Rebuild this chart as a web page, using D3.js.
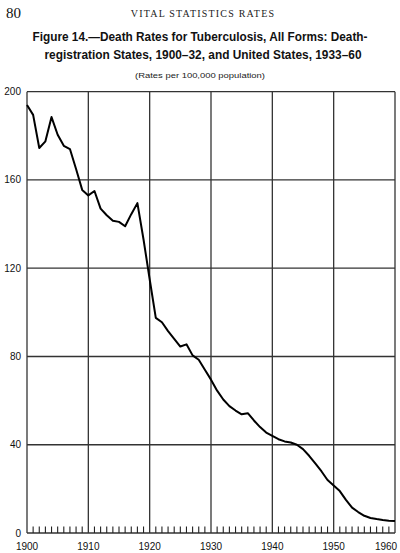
<!DOCTYPE html>
<html>
<head>
<meta charset="utf-8">
<script src="https://cdn.jsdelivr.net/npm/d3@7"></script>
<style>
  body { margin: 0; background: #fff; }
  svg { display: block; }
</style>
</head>
<body>
<div id="chart"></div>
<script>
// data
var years = d3.range(1900, 1961);
var rates = [
  194, 189.5, 174.5, 177.5, 188.5, 180.5, 175.5, 174, 165, 155.5,
  153, 155, 147, 144, 141.5, 141, 139, 144.5, 149.5, 133,
  115, 97.5, 95.5, 91.5, 88, 84.5, 85.5, 80.5, 78.5, 74,
  69.5, 64.5, 60.5, 57.5, 55.5, 53.8, 54.3, 51, 48, 45.5,
  44, 42.5, 41.5, 41, 40, 38, 35, 31.5, 28, 24,
  21.5, 19, 15, 11.5, 9.5, 7.8, 6.8, 6.3, 5.9, 5.6,
  5.4
];
var yTicks = [0, 40, 80, 120, 160, 200];
var xTicks = [1900, 1910, 1920, 1930, 1940, 1950, 1960];

var W = 400, H = 553;

var svg = d3.select('#chart').append('svg')
    .attr('width', W)
    .attr('height', H);

var x = d3.scaleLinear().domain([1900, 1960]).range([27, 395]);
var y = d3.scaleLinear().domain([0, 200]).range([533, 91.7]);

// page header
svg.append('text')
    .attr('x', 6).attr('y', 18)
    .attr('font-family', 'Liberation Serif, serif')
    .attr('font-size', 15)
    .attr('fill', '#111')
    .text('80');

svg.append('text')
    .attr('x', 203).attr('y', 17)
    .attr('text-anchor', 'middle')
    .attr('font-family', 'Liberation Serif, serif')
    .attr('font-size', 10)
    .attr('letter-spacing', 1.2)
    .attr('fill', '#222')
    .text('VITAL STATISTICS RATES');

// title
var title = [
  {t: 'Figure 14.\u2014Death Rates for Tuberculosis, All Forms: Death-', x: 200, y: 41, w: 335},
  {t: 'registration States, 1900\u201332, and United States, 1933\u201360', x: 203, y: 59, w: 317}
];
svg.selectAll('text.title').data(title).enter().append('text')
    .attr('class', 'title')
    .attr('x', function (d) { return d.x; })
    .attr('y', function (d) { return d.y; })
    .attr('text-anchor', 'middle')
    .attr('font-family', 'Liberation Sans, Arial, sans-serif')
    .attr('font-weight', 'bold')
    .attr('font-size', 12.5)
    .attr('textLength', function (d) { return d.w; })
    .attr('lengthAdjust', 'spacingAndGlyphs')
    .attr('fill', '#111')
    .text(function (d) { return d.t; });

svg.append('text')
    .attr('x', 200).attr('y', 78)
    .attr('text-anchor', 'middle')
    .attr('font-family', 'Liberation Sans, Arial, sans-serif')
    .attr('font-size', 8)
    .attr('textLength', 130)
    .attr('lengthAdjust', 'spacingAndGlyphs')
    .attr('fill', '#222')
    .text('(Rates per 100,000 population)');

// grid
var grid = svg.append('g')
    .attr('stroke', '#333')
    .attr('stroke-width', 1.3);

grid.selectAll('line.h').data(yTicks).enter().append('line')
    .attr('x1', x(1900)).attr('x2', x(1960))
    .attr('y1', function (d) { return y(d); })
    .attr('y2', function (d) { return y(d); });

grid.selectAll('line.v').data(xTicks).enter().append('line')
    .attr('x1', function (d) { return x(d); })
    .attr('x2', function (d) { return x(d); })
    .attr('y1', y(200)).attr('y2', y(0));

// small year ticks along the bottom
svg.append('g')
    .attr('stroke', '#222')
    .attr('stroke-width', 1.1)
    .selectAll('line').data(years.filter(function (d) { return d % 10 !== 0; }))
    .enter().append('line')
    .attr('x1', function (d) { return x(d); })
    .attr('x2', function (d) { return x(d); })
    .attr('y1', y(0)).attr('y2', y(0) - 6.5);

// axis labels
svg.selectAll('text.ylab').data(yTicks).enter().append('text')
    .attr('x', 21)
    .attr('y', function (d) { return y(d) + 3.5; })
    .attr('text-anchor', 'end')
    .attr('font-family', 'Liberation Sans, Arial, sans-serif')
    .attr('font-size', 10)
    .attr('fill', '#111')
    .text(function (d) { return d; });

svg.selectAll('text.xlab').data(xTicks).enter().append('text')
    .attr('x', function (d) { return d === 1960 ? x(d) - 9 : x(d); })
    .attr('y', 550)
    .attr('text-anchor', 'middle')
    .attr('font-family', 'Liberation Sans, Arial, sans-serif')
    .attr('font-size', 10)
    .attr('fill', '#111')
    .text(function (d) { return d; });

// the line
var line = d3.line()
    .x(function (d, i) { return x(years[i]); })
    .y(function (d) { return y(d); });

svg.append('path')
    .datum(rates)
    .attr('d', line)
    .attr('fill', 'none')
    .attr('stroke', '#000')
    .attr('stroke-width', 2)
    .attr('stroke-linejoin', 'round');
</script>
</body>
</html>
